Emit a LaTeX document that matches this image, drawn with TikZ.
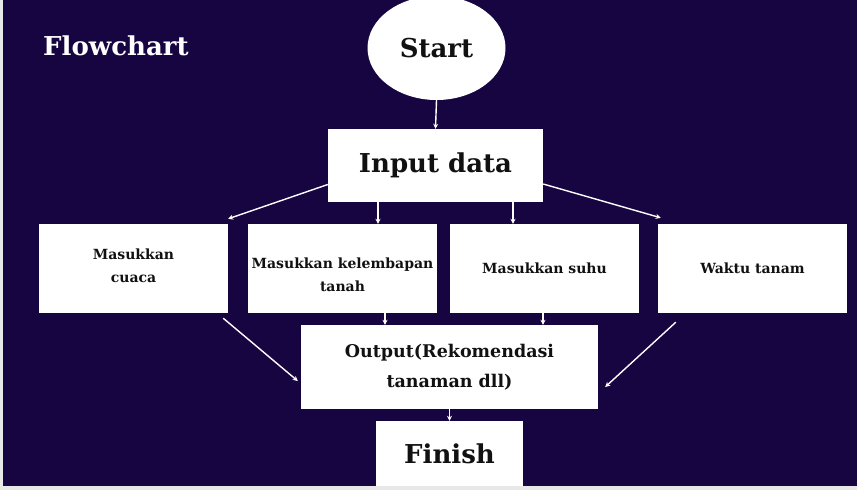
\documentclass[tikz,border=0pt]{standalone}
\usepackage{fontspec}
\setmainfont{DejaVu Serif}
\usetikzlibrary{shapes.geometric,arrows.meta}
\definecolor{bgdark}{RGB}{23,5,66}
\definecolor{bggray}{RGB}{232,232,232}
\definecolor{ink}{RGB}{17,17,17}
\tikzset{
  box/.style={rectangle, fill=white, inner sep=0pt, align=center, text=ink, font=\bfseries\fontsize{14}{23}\selectfont},
  bigbox/.style={box, font=\bfseries\fontsize{26}{30}\selectfont},
  arr/.style={draw=white, line width=1.4pt, -{Stealth[length=5pt,width=5pt]}}
}
\begin{document}
\begin{tikzpicture}[x=1pt,y=-1pt]
\useasboundingbox (0,0) rectangle (857,490);
\fill[bggray] (0,0) rectangle (857,490);
\fill[bgdark] (3,0) rectangle (857,486);
\node[anchor=base west, text=white, font=\bfseries\fontsize{26}{30}\selectfont, inner sep=0pt] (title) at (43,55) {Flowchart};
\node[ellipse, fill=white, minimum width=138pt, minimum height=104pt, inner sep=0pt, text=ink, font=\bfseries\fontsize{26}{30}\selectfont] (start) at (436.5,48) {Start};
\node[bigbox, minimum width=215pt, minimum height=73pt] (input) at (435.5,165.5) {Input data};
\node[box, minimum width=189pt, minimum height=89pt, text depth=5pt] (cuaca) at (133.5,268.5) {Masukkan\\cuaca};
\node[box, minimum width=189pt, minimum height=89pt, text height=46.6pt] (kel) at (342.5,268.5) {Masukkan kelembapan\\tanah};
\node[box, minimum width=189pt, minimum height=89pt] (suhu) at (544.5,268.5) {Masukkan suhu};
\node[box, minimum width=189pt, minimum height=89pt] (waktu) at (752.5,268.5) {Waktu tanam};
\node[box, font=\bfseries\fontsize{17.5}{30}\selectfont, minimum width=297pt, minimum height=84pt] (output) at (449.5,367) {Output(Rekomendasi\\tanaman dll)};
\node[bigbox, minimum width=147pt, minimum height=65pt] (finish) at (449.5,453.5) {Finish};
\draw[arr] (start.south) -- (input.north);
\draw[arr] ([yshift=-19pt]input.west) -- ([yshift=5pt]cuaca.north east);
\draw[arr] ([xshift=-57.5pt]input.south) -- ([xshift=35.5pt]kel.north);
\draw[arr] ([xshift=77.5pt]input.south) -- ([xshift=-31.5pt]suhu.north);
\draw[arr] ([yshift=-18.5pt]input.east) -- ([xshift=3pt,yshift=6pt]waktu.north west);
\draw[arr] ([xshift=-5pt,yshift=-5pt]cuaca.south east) -- ([xshift=-3pt,yshift=-14pt]output.west);
\draw[arr] ([xshift=42.5pt]kel.south) -- ([xshift=-64.5pt]output.north);
\draw[arr] ([xshift=-1.5pt]suhu.south) -- ([xshift=93.5pt]output.north);
\draw[arr] ([xshift=18pt,yshift=-9pt]waktu.south west) -- ([xshift=7pt,yshift=-20pt]output.east);
\draw[arr] (output.south) -- (finish.north);
\end{tikzpicture}
\end{document}
